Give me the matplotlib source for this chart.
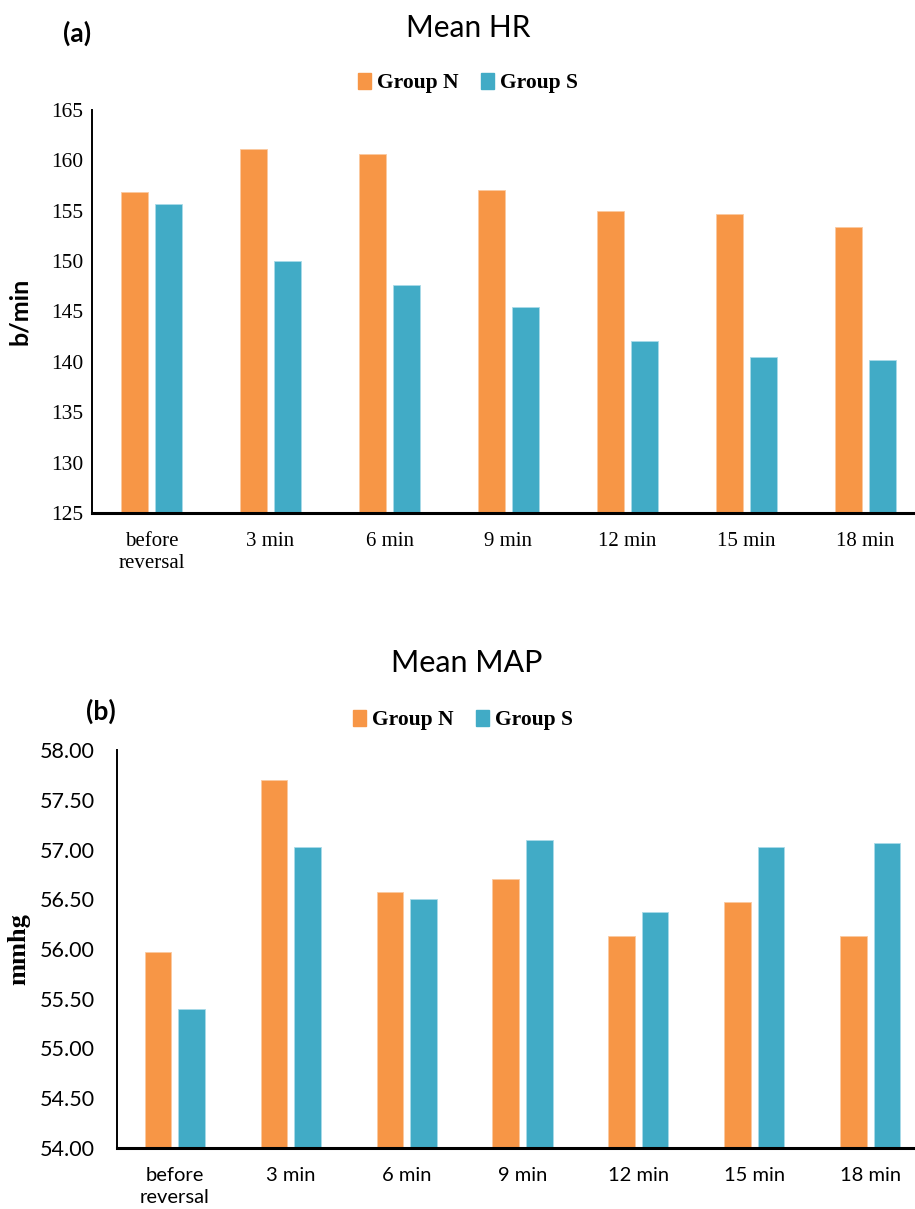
import matplotlib
matplotlib.use("Agg")
import matplotlib.pyplot as plt
from matplotlib.patches import Patch
import numpy as np

categories = ["before\nreversal", "3 min", "6 min", "9 min", "12 min", "15 min", "18 min"]
hr_group_n = [156.9, 161.1, 160.6, 157.1, 155.0, 154.7, 153.4]
hr_group_s = [155.7, 150.0, 147.6, 145.4, 142.1, 140.5, 140.2]
map_group_n = [55.97, 57.70, 56.57, 56.70, 56.13, 56.47, 56.13]
map_group_s = [55.40, 57.03, 56.50, 57.10, 56.37, 57.03, 57.07]
hr_ticks = [125, 130, 135, 140, 145, 150, 155, 160, 165]
map_ticks = [54.00, 54.50, 55.00, 55.50, 56.00, 56.50, 57.00, 57.50, 58.00]

ORANGE = "#F79646"
TEAL = "#41ABC6"
W, H = 915, 1209

fig = plt.figure(figsize=(W / 100, H / 100), dpi=100)

def px_axes(left, top, right, bottom):
    return fig.add_axes([left / W, 1 - bottom / H, (right - left) / W, (bottom - top) / H])

x = np.arange(len(categories))
bw = 0.23
off = 0.145

# ---------- panel (a) ----------
ax1 = px_axes(92, 110, 925, 513)
ax1.bar(x - off, hr_group_n, bw, bottom=0, color=ORANGE, edgecolor="#FBC9A0", linewidth=0.6)
ax1.bar(x + off, hr_group_s, bw, bottom=0, color=TEAL, edgecolor="#A9DBE8", linewidth=0.6)
ax1.set_ylim(125, 165)
ax1.set_xlim(-0.5, 6.5)
ax1.set_yticks(hr_ticks)
ax1.set_yticklabels([str(t) for t in hr_ticks], family="Liberation Serif", fontsize=15.5)
ax1.set_xticks(x)
ax1.set_xticklabels(categories, family="Liberation Serif", fontsize=15, linespacing=1.15)
ax1.tick_params(axis="both", length=0)
ax1.tick_params(axis="y", pad=6)
ax1.tick_params(axis="x", pad=14)
for s in ["top", "right"]:
    ax1.spines[s].set_visible(False)
ax1.spines["left"].set_linewidth(1.4)
ax1.spines["bottom"].set_linewidth(2.2)
ax1.set_ylabel("b/min", family="Lato", fontweight="bold", fontsize=18)
ax1.yaxis.set_label_coords(-61 / 833, 0.5)

fig.text(77 / W, 1 - 33 / H, "(a)", family="Lato", fontweight="bold", fontsize=19,
         ha="center", va="center")
fig.text(468 / W, 1 - 28 / H, "Mean HR", family="Lato", fontsize=21.5, ha="center", va="center")

handles = [Patch(color=ORANGE, label="Group N"), Patch(color=TEAL, label="Group S")]
fig.legend(handles=handles, loc="center", bbox_to_anchor=(468 / W, 1 - 83 / H), ncol=2,
           frameon=False, prop={"family": "Liberation Serif", "weight": "bold", "size": 15.5},
           handlelength=0.6, handleheight=0.75, handletextpad=0.3, columnspacing=1.0)

# ---------- panel (b) ----------
ax2 = px_axes(117, 750, 928, 1148)
ax2.bar(x - off, map_group_n, bw, bottom=0, color=ORANGE, edgecolor="#FBC9A0", linewidth=0.6)
ax2.bar(x + off, map_group_s, bw, bottom=0, color=TEAL, edgecolor="#A9DBE8", linewidth=0.6)
ax2.set_ylim(54, 58)
ax2.set_xlim(-0.5, 6.5)
ax2.set_yticks(map_ticks)
ax2.set_yticklabels([f"{t:.2f}" for t in map_ticks], family="Lato", fontsize=15.5)
ax2.set_xticks(x)
ax2.set_xticklabels(categories, family="Lato", fontsize=14.5, linespacing=1.3)
ax2.tick_params(axis="both", length=0)
ax2.tick_params(axis="y", pad=16)
ax2.tick_params(axis="x", pad=14)
for s in ["top", "right"]:
    ax2.spines[s].set_visible(False)
ax2.spines["left"].set_linewidth(1.4)
ax2.spines["bottom"].set_linewidth(2.2)
ax2.set_ylabel("mmhg", family="Liberation Serif", fontweight="bold", fontsize=19)
ax2.yaxis.set_label_coords(-87 / 811, 0.5)

fig.text(101 / W, 1 - 711 / H, "(b)", family="Lato", fontweight="bold", fontsize=19,
         ha="center", va="center")
fig.text(467 / W, 1 - 663 / H, "Mean MAP", family="Lato", fontsize=22, ha="center", va="center")

fig.legend(handles=handles, loc="center", bbox_to_anchor=(463 / W, 1 - 720 / H), ncol=2,
           frameon=False, prop={"family": "Liberation Serif", "weight": "bold", "size": 15.5},
           handlelength=0.6, handleheight=0.75, handletextpad=0.3, columnspacing=1.0)

fig.savefig("out.png", dpi=100)
